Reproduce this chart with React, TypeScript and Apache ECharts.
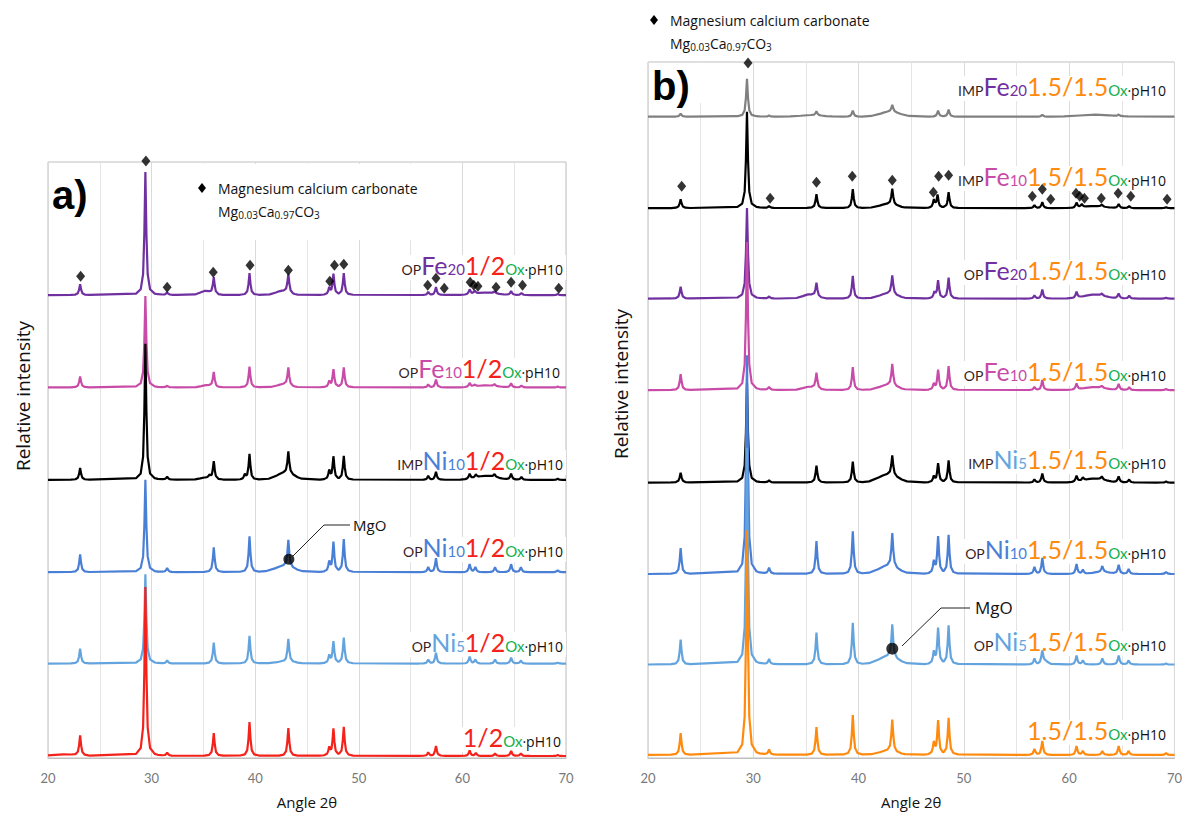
import React, { useEffect, useRef } from "react";
import * as echarts from "echarts";

type Peak = [number, number];
type Hump = [number, number, number];

// ---- Panel a) : peak [angle, height above trace baseline] ----
const aBaselines = { fe20: 466, fe10: 373, impNi10: 280, ni10: 187, ni5: 95, ref: 2 };

const aFe20Peaks: Peak[] = [[23.1, 11], [29.4, 124], [31.5, 2.5], [36.0, 17], [39.45, 22], [43.2, 19], [47.15, 7], [47.55, 21], [48.55, 22], [56.7, 3], [57.45, 8], [60.7, 5], [61.2, 3], [63.1, 2], [64.7, 4], [65.7, 2], [69.2, 1]];
const aFe20Humps: Hump[] = [[35.2, 4, 0.5], [42.6, 4, 0.6], [62.3, 2.5, 1.0]];

const aFe10Peaks: Peak[] = [[23.1, 11], [29.4, 92], [31.5, 1.5], [36.0, 15], [39.45, 21], [43.2, 18], [47.15, 6], [47.55, 18], [48.55, 20], [56.7, 3], [57.45, 8], [60.7, 4], [61.2, 2], [63.1, 2], [64.7, 4], [65.7, 2], [69.2, 1]];
const aFe10Humps: Hump[] = [[35.3, 2, 0.5], [42.7, 3, 0.6], [62.3, 2, 1.0]];

const aImpNi10Peaks: Peak[] = [[23.1, 12], [29.4, 137], [31.5, 3], [35.6, 3], [36.0, 18], [39.0, 5], [39.45, 26], [43.2, 22], [47.15, 9], [47.55, 23], [48.55, 24], [56.7, 4], [57.45, 8], [60.7, 5], [61.3, 3], [63.1, 3], [64.7, 6], [65.7, 3], [69.2, 1]];
const aImpNi10Humps: Hump[] = [[42.9, 7, 0.8], [62.3, 4, 1.0], [35.2, 2, 0.5]];

const aNi10Peaks: Peak[] = [[23.1, 18], [29.4, 93], [31.5, 4], [36.0, 25], [39.45, 36], [43.2, 27], [47.15, 10], [47.55, 30], [48.55, 33], [56.7, 5], [57.45, 14], [60.7, 8], [61.25, 5], [63.15, 5], [64.7, 8], [65.65, 5], [69.2, 2]];
const aNi10Humps: Hump[] = [[42.8, 6, 0.9]];

const aNi5Peaks: Peak[] = [[23.1, 15], [29.4, 90], [31.5, 3], [36.0, 21], [39.45, 28], [43.2, 23], [47.15, 8], [47.55, 22], [48.55, 26], [56.7, 4], [57.45, 11], [60.7, 7], [61.25, 4], [63.15, 4], [64.7, 6], [65.65, 3], [69.2, 1]];
const aNi5Humps: Hump[] = [[42.9, 2, 0.8]];

const aRefPeaks: Peak[] = [[23.1, 20], [29.4, 170], [31.5, 3], [36.0, 23], [39.45, 34], [43.2, 28], [47.15, 8], [47.55, 27], [48.55, 29], [56.7, 3.5], [57.45, 10], [60.7, 5.5], [61.3, 3], [63.15, 2.5], [64.7, 5], [65.65, 2.5], [69.2, 1]];
const aRefHumps: Hump[] = [[21.5, 1.5, 1.2]];

const aDiamonds = [[23.15, 485], [29.45, 601], [31.5, 474], [35.95, 489], [39.5, 496], [43.2, 491], [47.2, 480], [47.65, 496], [48.55, 497], [56.65, 476], [57.45, 483], [58.25, 473], [60.75, 479], [61.1, 476], [61.5, 475], [63.25, 474], [64.7, 479], [65.8, 476], [69.3, 473]];
const aMgO = [[43.25, 200]];

// ---- Panel b) ----
const bBaselines = { impFe20: 645, impFe10: 553, fe20: 462, fe10: 370, impNi5: 277, ni10: 185, ni5: 94, ref: 3 };

const bImpFe20Peaks: Peak[] = [[23.1, 3], [29.4, 38], [31.5, 1], [36.0, 4], [39.45, 6], [43.2, 7], [47.55, 6], [48.55, 7], [57.45, 2], [64.7, 1.5]];
const bImpFe20Humps: Hump[] = [[43.0, 5, 0.9], [62.5, 2, 1.5], [35.5, 1.5, 1.0]];

const bImpFe10Peaks: Peak[] = [[23.1, 9], [29.4, 97], [31.5, 2], [36.0, 14], [39.45, 19], [43.2, 16], [47.15, 8], [47.5, 13], [48.55, 16], [56.7, 3], [57.45, 6], [60.7, 5], [61.2, 3], [63.1, 2], [64.7, 4], [65.7, 2], [69.2, 1]];
const bImpFe10Humps: Hump[] = [[42.8, 4, 0.8], [62.4, 2, 1.0]];

const bFe20Peaks: Peak[] = [[23.1, 12], [29.4, 91], [31.5, 2], [36.0, 14], [39.45, 23], [43.2, 19], [47.2, 6], [47.55, 18], [48.55, 21], [56.7, 3], [57.45, 9], [60.7, 6], [63.1, 2], [64.7, 5], [65.7, 3], [69.2, 1]];
const bFe20Humps: Hump[] = [[35.3, 4, 0.6], [42.8, 5, 0.8], [62.4, 4, 1.0]];

const bFe10Peaks: Peak[] = [[23.1, 16], [29.4, 149], [31.5, 3], [36.0, 16], [39.45, 23], [43.2, 22], [47.15, 6], [47.55, 20], [48.55, 24], [56.7, 3], [57.45, 10], [60.7, 6], [63.1, 2], [64.7, 6], [65.7, 3], [69.2, 1]];
const bFe10Humps: Hump[] = [[35.3, 3, 0.6], [42.8, 5, 0.8], [62.4, 3, 1.0]];

const bImpNi5Peaks: Peak[] = [[23.1, 10], [29.4, 100], [31.5, 2], [36.0, 17], [39.45, 21], [43.2, 20], [47.15, 6], [47.55, 19], [48.55, 22], [56.7, 3], [57.45, 9], [60.7, 6], [61.3, 3], [63.1, 3], [64.7, 6], [65.7, 3], [69.2, 1]];
const bImpNi5Humps: Hump[] = [[42.8, 8, 0.9], [62.4, 4, 1.0]];

const bNi10Peaks: Peak[] = [[23.1, 26], [29.4, 220], [31.5, 6], [36.0, 33], [39.45, 43], [43.2, 34], [47.15, 12], [47.55, 37], [48.55, 39], [56.7, 7], [57.45, 16], [60.7, 10], [61.3, 4], [63.15, 6], [64.7, 9], [65.65, 5], [69.2, 2]];
const bNi10Humps: Hump[] = [[42.8, 8, 0.9], [63.1, 2, 0.8]];

const bNi5Peaks: Peak[] = [[23.1, 25], [29.4, 218], [31.5, 5], [36.0, 32], [39.45, 42], [43.2, 33], [47.15, 12], [47.55, 36], [48.55, 39], [56.7, 6], [57.45, 12], [60.7, 9], [61.3, 4], [63.15, 6], [64.7, 9], [65.65, 4], [69.2, 1]];
const bNi5Humps: Hump[] = [[42.8, 8, 0.9], [57.7, 3, 0.3]];

const bRefPeaks: Peak[] = [[23.1, 22], [29.4, 226], [31.5, 5], [36.0, 28], [39.45, 40], [43.2, 32], [47.15, 12], [47.55, 34], [48.55, 37], [56.7, 6], [57.45, 14], [60.7, 9], [61.3, 4], [63.15, 4], [64.7, 9], [65.65, 4], [69.2, 2]];
const bRefHumps: Hump[] = [[42.8, 4, 0.8]];

const bDiamonds = [[23.2, 575], [29.5, 699], [31.6, 563], [36.0, 579], [39.4, 585], [43.2, 581], [47.1, 569], [47.6, 585], [48.55, 586], [56.5, 565], [57.45, 572], [58.25, 562], [60.65, 568], [61.0, 565], [61.45, 563], [63.05, 563], [64.65, 568], [65.85, 565], [69.3, 562]];
const bMgO = [[43.2, 110]];

const xTicks = [20, 30, 40, 50, 60, 70];

// Sample labels: [text, style] tokens
type Tok = [string, string];
const labelsA: { x: number; y: number; toks: Tok[] }[] = [
  { x: 563, y: 267, toks: [["OP", "pre"], ["Fe", "fePu"], ["20", "nPu"], ["1/2", "rRed"], ["Ox", "ox"], ["·pH10", "ph"]] },
  { x: 560, y: 370, toks: [["OP", "pre"], ["Fe", "feMa"], ["10", "nMa"], ["1/2", "rRed"], ["Ox", "ox"], ["·pH10", "ph"]] },
  { x: 563, y: 462, toks: [["IMP", "pre"], ["Ni", "niBl"], ["10", "nBl"], ["1/2", "rRed"], ["Ox", "ox"], ["·pH10", "ph"]] },
  { x: 563, y: 549, toks: [["OP", "pre"], ["Ni", "niBl"], ["10", "nBl"], ["1/2", "rRed"], ["Ox", "ox"], ["·pH10", "ph"]] },
  { x: 563, y: 644, toks: [["OP", "pre"], ["Ni", "niLb"], ["5", "nLb"], ["1/2", "rRed"], ["Ox", "ox"], ["·pH10", "ph"]] },
  { x: 561, y: 739, toks: [["1/2", "rRed"], ["Ox", "ox"], ["·pH10", "ph"]] },
];
const labelsB: { x: number; y: number; toks: Tok[] }[] = [
  { x: 1166, y: 88, toks: [["IMP", "pre"], ["Fe", "fePu"], ["20", "nPu"], ["1.5/1.5", "rOr"], ["Ox", "ox"], ["·pH10", "ph"]] },
  { x: 1166, y: 178, toks: [["IMP", "pre"], ["Fe", "feMa"], ["10", "nMa"], ["1.5/1.5", "rOr"], ["Ox", "ox"], ["·pH10", "ph"]] },
  { x: 1166, y: 272, toks: [["OP", "pre"], ["Fe", "fePu"], ["20", "nPu"], ["1.5/1.5", "rOr"], ["Ox", "ox"], ["·pH10", "ph"]] },
  { x: 1166, y: 373, toks: [["OP", "pre"], ["Fe", "feMa"], ["10", "nMa"], ["1.5/1.5", "rOr"], ["Ox", "ox"], ["·pH10", "ph"]] },
  { x: 1166, y: 461, toks: [["IMP", "pre"], ["Ni", "niLb"], ["5", "nLb"], ["1.5/1.5", "rOr"], ["Ox", "ox"], ["·pH10", "ph"]] },
  { x: 1166, y: 551, toks: [["OP", "pre"], ["Ni", "niBl"], ["10", "nBl"], ["1.5/1.5", "rOr"], ["Ox", "ox"], ["·pH10", "ph"]] },
  { x: 1166, y: 643, toks: [["OP", "pre"], ["Ni", "niLb"], ["5", "nLb"], ["1.5/1.5", "rOr"], ["Ox", "ox"], ["·pH10", "ph"]] },
  { x: 1166, y: 732, toks: [["1.5/1.5", "rOr"], ["Ox", "ox"], ["·pH10", "ph"]] },
];
const formulaToks: Tok[] = [["Mg", "ft"], ["0.03", "fs"], ["Ca", "ft"], ["0.97", "fs"], ["CO", "ft"], ["3", "fs"]];

const C = {
  purple: "#7030A0",
  magenta: "#C84BA8",
  black: "#000000",
  blue: "#4A7FD6",
  lightBlue: "#64A4DE",
  red: "#F5221B",
  orange: "#FF8A0D",
  grey: "#808080",
  green: "#12B04E",
  pre: "#3A1E1E",
};

const FONT = "Lato";
const SANS = "Open Sans";

const TOK: Record<string, { size: number; family: string; fill: string; dy?: number }> = {
  pre: { size: 14, family: FONT, fill: C.pre },
  fePu: { size: 25, family: FONT, fill: C.purple },
  feMa: { size: 25, family: FONT, fill: C.magenta },
  niBl: { size: 25, family: FONT, fill: C.blue },
  niLb: { size: 25, family: FONT, fill: C.lightBlue },
  nPu: { size: 15, family: FONT, fill: C.purple },
  nMa: { size: 15, family: FONT, fill: C.magenta },
  nBl: { size: 15, family: FONT, fill: C.blue },
  nLb: { size: 15, family: FONT, fill: C.lightBlue },
  rRed: { size: 25, family: FONT, fill: C.red },
  rOr: { size: 25, family: FONT, fill: C.orange },
  ox: { size: 15, family: FONT, fill: C.green },
  ph: { size: 14, family: SANS, fill: "#111" },
  ft: { size: 14, family: SANS, fill: "#111" },
  fs: { size: 10, family: SANS, fill: "#111", dy: 1.5 },
};

// Build the trace line from the peak list
function trace(peaks: Peak[], humps: Hump[], base: number): number[][] {
  const G = 0.1;
  const xs = new Set<number>([20, 70]);
  const pd = [-0.9, -0.45, -0.22, -0.1, 0, 0.1, 0.22, 0.45, 0.9];
  peaks.forEach(([p]) => pd.forEach((d) => xs.add(+(p + d).toFixed(3))));
  humps.forEach(([p, , w]) => [-2, -1, 0, 1, 2].forEach((k) => xs.add(+(p + k * w).toFixed(3))));
  const sorted = Array.from(xs).filter((x) => x >= 20 && x <= 70).sort((a, b) => a - b);
  return sorted.map((x) => {
    let y = 0;
    peaks.forEach(([p, h]) => {
      const t = (x - p) / G;
      y += h / (1 + t * t);
    });
    humps.forEach(([p, h, w]) => {
      const t = (x - p) / w;
      y += h * Math.exp(-0.5 * t * t);
    });
    return [x, base + y];
  });
}

type Measure = (text: string, size: number, family: string) => number;

function makeMeasure(): { m: Measure; done: () => void } {
  const ns = "http://www.w3.org/2000/svg";
  const svg = document.createElementNS(ns, "svg");
  svg.setAttribute("style", "position:absolute;left:-5000px;top:0;width:10px;height:10px;visibility:hidden");
  const t = document.createElementNS(ns, "text") as SVGTextElement;
  svg.appendChild(t);
  document.body.appendChild(svg);
  const m: Measure = (text, size, family) => {
    t.setAttribute("font-family", family);
    t.setAttribute("font-size", String(size));
    t.textContent = text;
    return t.getComputedTextLength();
  };
  return { m, done: () => svg.remove() };
}

// lay out a line of tokens on a shared baseline; align right at x (or left)
function tokenLine(m: Measure, x: number, baseline: number, toks: Tok[], align: "left" | "right", bg: boolean) {
  const widths = toks.map(([t, s]) => m(t, TOK[s].size, TOK[s].family));
  const total = widths.reduce((a, b) => a + b, 0);
  let cx = align === "right" ? x - total : x;
  const els: any[] = [];
  if (bg) {
    const maxSize = Math.max(...toks.map(([, s]) => TOK[s].size));
    els.push({
      type: "rect",
      silent: true,
      z: 1,
      shape: { x: cx - 3, y: baseline - maxSize * 0.8, width: total + 6, height: maxSize * 1.0 },
      style: { fill: "#fff" },
    });
  }
  toks.forEach(([t, s], i) => {
    const st = TOK[s];
    els.push({
      type: "text",
      silent: true,
      z: 10,
      x: cx,
      y: baseline + (st.dy || 0) - 0.387 * st.size,
      style: { text: t, fontFamily: st.family, fontSize: st.size, fill: st.fill, align: "left", verticalAlign: "middle" },
    });
    cx += widths[i];
  });
  return els;
}

function diamond(cx: number, cy: number) {
  return {
    type: "polygon",
    silent: true,
    z: 10,
    shape: { points: [[cx, cy - 5], [cx + 4, cy], [cx, cy + 5], [cx - 4, cy]] },
    style: { fill: "#000" },
  };
}

function legend(m: Measure, x: number, y: number) {
  return [
    diamond(x - 16, y),
    { type: "text", x, y, silent: true, z: 10, style: { text: "Magnesium calcium carbonate", fontFamily: SANS, fontSize: 14, fill: "#111", align: "left", verticalAlign: "middle" } },
    ...tokenLine(m, x, y + 29, formulaToks, "left", false),
  ];
}

function yTitle(x: number, y: number) {
  return {
    type: "text",
    x,
    y,
    rotation: Math.PI / 2,
    silent: true,
    z: 10,
    style: { text: "Relative intensity", fontFamily: SANS, fontSize: 19, fill: "#111", align: "center", verticalAlign: "middle" },
  };
}

function lineSeries(data: number[][], color: string, idx: number) {
  return {
    type: "line",
    xAxisIndex: idx,
    yAxisIndex: idx,
    data,
    symbol: "none",
    showSymbol: false,
    silent: true,
    lineStyle: { color, width: 2.2 },
    itemStyle: { color },
  };
}

function xAxis(idx: number) {
  return {
    type: "value",
    gridIndex: idx,
    min: 20,
    max: 70,
    interval: 10,
    name: "Angle 2θ",
    nameLocation: "middle",
    nameGap: 36,
    nameTextStyle: { fontFamily: SANS, fontSize: 15, color: "#111" },
    axisLine: { show: true, lineStyle: { color: "#bfbfbf" } },
    axisTick: { show: false },
    minorTick: { show: false, splitNumber: 2 },
    axisLabel: {
      color: "#777",
      fontFamily: FONT,
      fontSize: 13,
      margin: 13,
      formatter: (v: number) => (xTicks.includes(v) ? String(v) : ""),
    },
    splitLine: { show: true, lineStyle: { color: "#dadada" } },
    minorSplitLine: { show: true, lineStyle: { color: "#e4e4e4" } },
  };
}

function yAxis(idx: number, max: number) {
  return {
    type: "value",
    gridIndex: idx,
    min: 0,
    max,
    axisLine: { show: false },
    axisTick: { show: false },
    axisLabel: { show: false },
    splitLine: { show: false },
  };
}

export default function App() {
  const ref = useRef<HTMLDivElement>(null);
  useEffect(() => {
    if (!ref.current) return;
    const chart = echarts.init(ref.current, undefined, { renderer: "svg" });
    const { m, done } = makeMeasure();
    const scatter = (data: number[][], idx: number, size: number | number[], symbol: string) => ({
      type: "scatter",
      xAxisIndex: idx,
      yAxisIndex: idx,
      data,
      symbol,
      symbolSize: size,
      clip: false,
      silent: true,
      itemStyle: { color: "#000" },
      z: 5,
    });
    const labelEls = [...labelsA, ...labelsB].flatMap((l) => tokenLine(m, l.x, l.y + 8, l.toks, "right", true));
    const graphic = [
      // white boxes behind legend and panel letter (hide grid lines)
      { type: "rect", silent: true, z: 1, shape: { x: 186, y: 164, width: 268, height: 76 }, style: { fill: "#fff" } },
      { type: "rect", silent: true, z: 1, shape: { x: 649, y: 63, width: 56, height: 40 }, style: { fill: "#fff" } },
      { type: "text", x: 52, y: 195, silent: true, z: 10, style: { text: "a)", fontFamily: "Liberation Sans", fontWeight: "bold", fontSize: 40, fill: "#000", verticalAlign: "middle" } },
      { type: "text", x: 652, y: 86, silent: true, z: 10, style: { text: "b)", fontFamily: "Liberation Sans", fontWeight: "bold", fontSize: 40, fill: "#000", verticalAlign: "middle" } },
      yTitle(23, 396),
      yTitle(621, 384),
      ...legend(m, 218, 188),
      ...legend(m, 670, 20),
      ...labelEls,
      // MgO callouts
      { type: "polyline", silent: true, z: 10, shape: { points: [[292, 557], [324, 525], [350, 525]] }, style: { stroke: "#222", lineWidth: 1, fill: null } },
      { type: "text", x: 353, y: 525, silent: true, z: 10, style: { text: "MgO", fontFamily: SANS, fontSize: 15, fill: "#111", verticalAlign: "middle" } },
      { type: "polyline", silent: true, z: 10, shape: { points: [[902, 646], [941, 608], [970, 608]] }, style: { stroke: "#222", lineWidth: 1, fill: null } },
      { type: "text", x: 975, y: 607, silent: true, z: 10, style: { text: "MgO", fontFamily: SANS, fontSize: 17, fill: "#111", verticalAlign: "middle" } },
    ];
    done();
    chart.setOption({
      animation: false,
      backgroundColor: "#fff",
      grid: [
        { left: 48, top: 162, width: 518, height: 600, show: true, borderColor: "#bfbfbf", borderWidth: 1, backgroundColor: "transparent" },
        { left: 648, top: 62, width: 527, height: 700, show: true, borderColor: "#bfbfbf", borderWidth: 1, backgroundColor: "transparent" },
      ],
      xAxis: [xAxis(0), xAxis(1)],
      yAxis: [yAxis(0, 600), yAxis(1, 700)],
      series: [
        // panel a (bottom to top drawing order)
        lineSeries(trace(aFe10Peaks, aFe10Humps, aBaselines.fe10), C.magenta, 0),
        lineSeries(trace(aFe20Peaks, aFe20Humps, aBaselines.fe20), C.purple, 0),
        lineSeries(trace(aNi10Peaks, aNi10Humps, aBaselines.ni10), C.blue, 0),
        lineSeries(trace(aImpNi10Peaks, aImpNi10Humps, aBaselines.impNi10), C.black, 0),
        lineSeries(trace(aNi5Peaks, aNi5Humps, aBaselines.ni5), C.lightBlue, 0),
        lineSeries(trace(aRefPeaks, aRefHumps, aBaselines.ref), C.red, 0),
        scatter(aDiamonds, 0, [9, 11], "diamond"),
        scatter(aMgO, 0, 11, "circle"),
        // panel b
        lineSeries(trace(bImpFe20Peaks, bImpFe20Humps, bBaselines.impFe20), C.grey, 1),
        lineSeries(trace(bFe20Peaks, bFe20Humps, bBaselines.fe20), C.purple, 1),
        lineSeries(trace(bImpFe10Peaks, bImpFe10Humps, bBaselines.impFe10), C.black, 1),
        lineSeries(trace(bFe10Peaks, bFe10Humps, bBaselines.fe10), C.magenta, 1),
        lineSeries(trace(bImpNi5Peaks, bImpNi5Humps, bBaselines.impNi5), C.black, 1),
        lineSeries(trace(bNi10Peaks, bNi10Humps, bBaselines.ni10), C.blue, 1),
        lineSeries(trace(bNi5Peaks, bNi5Humps, bBaselines.ni5), C.lightBlue, 1),
        lineSeries(trace(bRefPeaks, bRefHumps, bBaselines.ref), C.orange, 1),
        scatter(bDiamonds, 1, [9, 11], "diamond"),
        scatter(bMgO, 1, 12, "circle"),
      ],
      graphic,
    });
    return () => chart.dispose();
  }, []);
  return <div ref={ref} style={{ position: "absolute", left: 0, top: 0, width: 1185, height: 814 }} />;
}
